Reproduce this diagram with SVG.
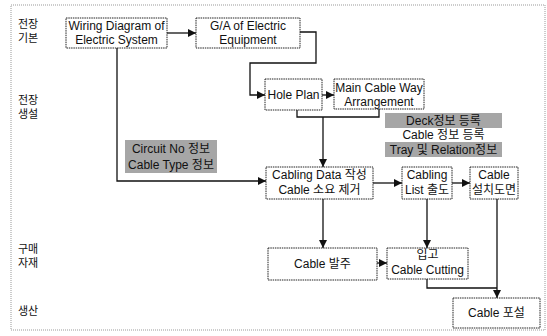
<svg xmlns="http://www.w3.org/2000/svg" width="547" height="336" viewBox="0 0 547 336">
<defs>
<style>
text{font-family:"Liberation Sans","Noto Sans CJK KR",sans-serif;font-size:12px;fill:#111;text-anchor:middle}
.lbl{text-anchor:start;font-size:11px}
.box{fill:#fff;stroke:#222;stroke-width:1;stroke-dasharray:1.5 0.8}
.shade{fill:#a6a6a6}
.conn{fill:none;stroke:#111;stroke-width:1.3}
.frame{fill:none;stroke:#999;stroke-width:1;stroke-dasharray:1 1}
</style>
<marker id="ah" markerUnits="userSpaceOnUse" markerWidth="8" markerHeight="8" refX="8" refY="4" orient="auto">
<path d="M0,0 L8,4 L0,8 z" fill="#111"/>
</marker>
</defs>
<rect width="547" height="336" fill="#fff"/>
<rect class="frame" x="11" y="5" width="534" height="325"/>
<g id="lane-labels">
<text class="lbl" x="18" y="28">전장</text>
<text class="lbl" x="18" y="42">기본</text>
<text class="lbl" x="18" y="104">전장</text>
<text class="lbl" x="18" y="118">생설</text>
<text class="lbl" x="18" y="253">구매</text>
<text class="lbl" x="18" y="267">자재</text>
<text class="lbl" x="18" y="315">생산</text>
</g>
<g id="connectors">
<path class="conn" d="M167,33 H196" marker-end="url(#ah)"/>
<path class="conn" d="M300,32 H316 V63 H250 V95 H265" marker-end="url(#ah)"/>
<path class="conn" d="M322,95 H334" marker-end="url(#ah)"/>
<path class="conn" d="M297,110 V117 H379 V109"/>
<path class="conn" d="M323,117 V167" marker-end="url(#ah)"/>
<path class="conn" d="M117,48 V181 H266" marker-end="url(#ah)"/>
<path class="conn" d="M373,183 H402" marker-end="url(#ah)"/>
<path class="conn" d="M452,183 H470" marker-end="url(#ah)"/>
<path class="conn" d="M323,199 V248" marker-end="url(#ah)"/>
<path class="conn" d="M427,199 V248" marker-end="url(#ah)"/>
<path class="conn" d="M377,263 H387" marker-end="url(#ah)"/>
<path class="conn" d="M427,279 V288 H497"/>
<path class="conn" d="M497,199 V298" marker-end="url(#ah)"/>
</g>
<g id="wiring">
<rect class="box" x="66" y="18" width="101" height="30"/>
<text x="116.5" y="30">Wiring Diagram of</text>
<text x="116.5" y="44">Electric System</text>
</g>
<g id="ga">
<rect class="box" x="196" y="18" width="104" height="30"/>
<text x="248" y="30">G/A of Electric</text>
<text x="248" y="44">Equipment</text>
</g>
<g id="hole-plan">
<rect class="box" x="265" y="79" width="57" height="31"/>
<text x="293.5" y="99">Hole Plan</text>
</g>
<g id="main-cable-way">
<rect class="box" x="334" y="79" width="90" height="30"/>
<text x="379" y="92">Main Cable Way</text>
<text x="379" y="106">Arrangement</text>
</g>
<g id="deck-info">
<rect class="shade" x="385" y="113" width="117" height="15"/>
<rect class="shade" x="385" y="142" width="117" height="15"/>
<text x="443.5" y="125">Deck정보 등록</text>
<text x="443.5" y="139">Cable 정보 등록</text>
<text x="443.5" y="154">Tray 및 Relation정보</text>
</g>
<g id="circuit-info">
<rect class="shade" x="125" y="140" width="92" height="33"/>
<text x="171" y="153">Circuit No 정보</text>
<text x="171" y="169">Cable Type 정보</text>
</g>
<g id="cabling-data">
<rect class="box" x="266" y="167" width="107" height="32"/>
<text x="319.5" y="179">Cabling Data 작성</text>
<text x="319.5" y="194">Cable 소요 제거</text>
</g>
<g id="cabling-list">
<rect class="box" x="402" y="167" width="50" height="32"/>
<text x="427" y="179">Cabling</text>
<text x="427" y="194">List 출도</text>
</g>
<g id="cable-drawing">
<rect class="box" x="470" y="167" width="48" height="32"/>
<text x="494" y="179">Cable</text>
<text x="494" y="194">설치도면</text>
</g>
<g id="cable-order">
<rect class="box" x="268" y="248" width="109" height="32"/>
<text x="322.5" y="268">Cable 발주</text>
</g>
<g id="cable-cutting">
<rect class="box" x="387" y="248" width="81" height="31"/>
<text x="427.5" y="259">입고</text>
<text x="427.5" y="274">Cable Cutting</text>
</g>
<g id="cable-install">
<rect class="box" x="453" y="298" width="87" height="30"/>
<text x="496.5" y="317">Cable 포설</text>
</g>
</svg>
